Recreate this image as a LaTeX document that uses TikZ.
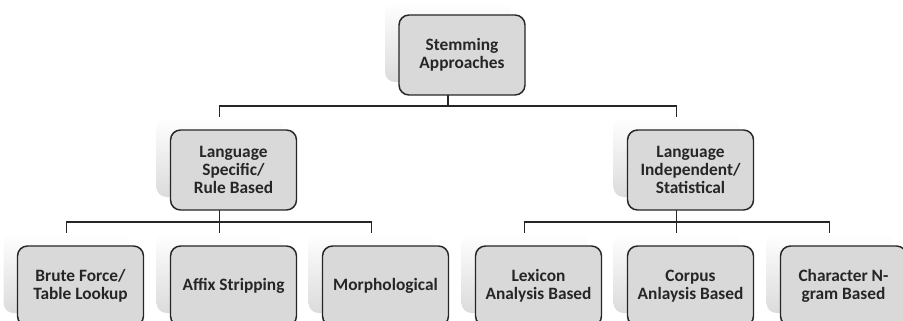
\documentclass[tikz,border=0pt]{standalone}
\usepackage{fontspec}
\setmainfont{Carlito}
\usepackage{tikz}
\definecolor{boxGray}{HTML}{D9D9D9}
\definecolor{edgeGray}{HTML}{262626}
\usetikzlibrary{calc}

\begin{document}
\begin{tikzpicture}[x=0.75pt,y=-0.75pt,
        shade/.style={rounded corners=7.5pt, minimum width=94.5pt, minimum height=60pt,
                      top color=white, bottom color=gray!28, inner sep=0pt},
        box/.style={draw=edgeGray, line width=1.1pt, rounded corners=7.5pt, fill=boxGray,
                    minimum width=94.5pt, minimum height=60pt, inner sep=0pt, align=center,
                    text=edgeGray, font=\bfseries\fontsize{13}{13.8}\selectfont},
        link/.style={draw=edgeGray, line width=1.1pt}]
        \useasboundingbox (0,0) rectangle (903,321);

        % shadows behind the boxes
        \node[shade] (sStem)  at (448,  42) {};
        \node[shade] (sRule)  at (219.5,157) {};
        \node[shade] (sStat)  at (676.5,157) {};
        \node[shade] (sBrute) at ( 66.5,273) {};
        \node[shade] (sAffix) at (219.5,273) {};
        \node[shade] (sMorph) at (371.5,273) {};
        \node[shade] (sLex)   at (524.5,273) {};
        \node[shade] (sCorp)  at (676.5,273) {};
        \node[shade] (sChar)  at (829.5,273) {};

        % connectors
        \coordinate (busTop)   at (448,  106);
        \coordinate (busLeft)  at (219.5,222);
        \coordinate (busRight) at (676.5,222);
        \draw[link] (sStem.south) -- (busTop);
        \draw[link] (busTop) -| (sRule.north);
        \draw[link] (busTop) -| (sStat.north);
        \draw[link] (sRule.south) -- (sAffix.north);
        \draw[link] (busLeft) -| (sBrute.north);
        \draw[link] (busLeft) -| (sMorph.north);
        \draw[link] (sStat.south) -- (sCorp.north);
        \draw[link] (busRight) -| (sLex.north);
        \draw[link] (busRight) -| (sChar.north);

        % boxes
        \node[box] (stem)  at (462,   55) {Stemming\\Approaches};
        \node[box] (rule)  at (233.5,170) {Language\\Specific/\\Rule Based};
        \node[box] (stat)  at (690.5,170) {Language\\Independent/\\Statistical};
        \node[box] (brute) at ( 80.5,286) {Brute Force/\\Table Lookup};
        \node[box] (affix) at (233.5,286) {Affix Stripping};
        \node[box] (morph) at (385.5,286) {Morphological};
        \node[box] (lex)   at (538.5,286) {Lexicon\\Analysis Based};
        \node[box] (corp)  at (690.5,286) {Corpus\\Anlaysis Based};
        \node[box] (char)  at (843.5,286) {Character N-\\gram Based};
    \end{tikzpicture}
\end{document}
